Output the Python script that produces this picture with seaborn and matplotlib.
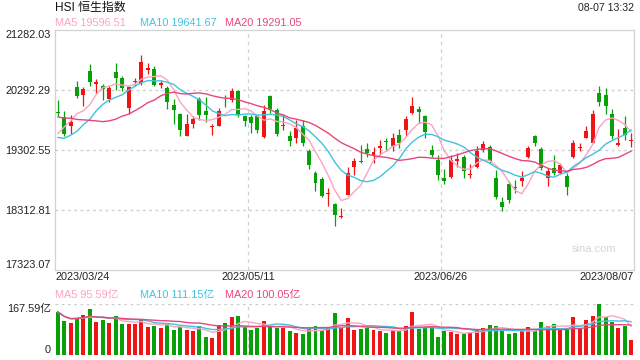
import numpy as np
import pandas as pd
import matplotlib
matplotlib.use("Agg")
import matplotlib.pyplot as plt
import seaborn as sns

# HSI daily candles, 2023/03/24 .. 2023/08/07
opens = [19912, 19837, 19682, 20332, 20205, 20590, 20385, 20354, 20134, 20573,
         20481, 19986, 20410, 20398, 20620, 20629, 20370, 20316, 20040, 19892,
         19517, 19727, 20139, 19930, 19672, 19694, 20060, 20122, 20260, 19859,
         19837, 19847, 19507, 20177, 19958, 19685, 19529, 19491, 19694, 19286,
         18913, 18814, 18575, 18407, 18185, 18555, 19022, 19112, 19309, 19215,
         19335, 19430, 19364, 19545, 19628, 19908, 19969, 19854, 19298, 19132,
         18836, 18857, 19105, 19182, 18875, 19006, 19289, 19347, 18830, 18440,
         18732, 18673, 18786, 19187, 19529, 19314, 18830, 18995, 18913, 18869,
         19177, 19325, 19491, 19418, 20233, 20200, 19887, 19385, 19656, 19450]
highs = [20111, 19930, 19875, 20436, 20332, 20716, 20469, 20382, 20342, 20728,
         20507, 20354, 20481, 20865, 20728, 20672, 20452, 20342, 20139, 19903,
         19892, 19847, 20167, 20167, 19727, 19986, 20205, 20316, 20288, 19875,
         19875, 19875, 20040, 20205, 19986, 19892, 19600, 19793, 19793, 19309,
         18940, 18857, 18666, 18428, 18336, 19022, 19161, 19380, 19418, 19352,
         19462, 19491, 19573, 19644, 19847, 20161, 20012, 19875, 19380, 19215,
         18984, 19215, 19243, 19215, 19062, 19368, 19435, 19380, 18968, 18527,
         18775, 18802, 18940, 19368, 19545, 19352, 18995, 19215, 19078, 18913,
         19462, 19408, 19682, 19946, 20354, 20316, 19969, 19639, 19847, 19573]
lows = [19847, 19517, 19557, 20151, 20012, 20358, 20233, 20122, 20094, 20288,
        20271, 19887, 20342, 20370, 20551, 20342, 20316, 19969, 19727, 19529,
        19517, 19656, 19793, 19764, 19545, 19694, 20002, 20078, 19837, 19694,
        19573, 19573, 19491, 19903, 19517, 19627, 19364, 19408, 19364, 18979,
        18626, 18517, 18374, 18044, 18180, 18555, 18885, 19078, 19177, 19078,
        19215, 19286, 19281, 19326, 19517, 19887, 19738, 19500, 19187, 18802,
        18737, 18840, 19022, 18840, 18840, 18995, 19260, 19078, 18489, 18280,
        18418, 18583, 18708, 19161, 19364, 18968, 18704, 18885, 18902, 18555,
        19161, 19270, 19491, 19408, 20012, 19892, 19474, 19364, 19462, 19352]
closes = [19900, 19562, 19764, 20193, 20299, 20408, 20409, 20299, 20316, 20481,
          20316, 20332, 20438, 20754, 20640, 20370, 20398, 20078, 19958, 19616,
          19727, 19809, 19875, 19875, 19690, 19930, 20045, 20271, 19875, 19768,
          19738, 19616, 19941, 19969, 19562, 19700, 19451, 19656, 19418, 19050,
          18748, 18539, 18590, 18225, 18200, 18913, 19105, 19100, 19243, 19260,
          19368, 19420, 19491, 19418, 19809, 20024, 19916, 19595, 19215, 18890,
          18786, 19132, 19144, 18940, 18893, 19281, 19392, 19105, 18527, 18362,
          18473, 18660, 18840, 19331, 19418, 18995, 18940, 18913, 19039, 18676,
          19408, 19340, 19611, 19887, 20078, 20024, 19517, 19405, 19545, 19466]
# turnover, 亿
volumes = [142, 112, 104, 123, 131, 151, 110, 115, 104, 128,
           102, 102, 102, 115, 93, 95, 90, 104, 82, 93,
           82, 79, 95, 60, 57, 99, 106, 126, 128, 93,
           82, 90, 112, 95, 88, 90, 79, 73, 69, 84,
           95, 82, 93, 139, 93, 121, 82, 85, 90, 82,
           79, 73, 82, 80, 95, 142, 85, 90, 93, 60,
           80, 77, 69, 69, 73, 85, 90, 99, 95, 80,
           69, 71, 80, 93, 80, 110, 96, 102, 85, 82,
           126, 88, 115, 128, 167.59, 124, 110, 90, 95, 49]
# closes before the window, only to start the moving averages
warmup_close = [19944, 19786, 20620, 20429, 20568, 20603, 20534, 20051, 19926, 19320,
                19696, 19248, 19540, 19204, 19519, 19001, 19259, 19591, 20050]

date_labels = ["2023/03/24", "2023/05/11", "2023/06/26", "2023/08/07"]
price_ticks = [17323.07, 18312.81, 19302.55, 20292.29, 21282.03]
vol_max = 167.59
ma_windows = [5, 10, 20]
ma_last = [19596.51, 19641.67, 19291.05]      # as printed in the header
vol_ma_last = [95.59, 111.15, 100.05]
ma_colors = {"MA5": "#f8a5c2", "MA10": "#3ec3e0", "MA20": "#e8467c"}
UP, DOWN = "#f01515", "#08a008"

n = len(closes)
idx = np.arange(n)
df = pd.DataFrame({"i": idx, "open": opens, "high": highs, "low": lows,
                   "close": closes, "vol": volumes})
df["color"] = np.where(df["close"] >= df["open"], UP, DOWN)

all_close = pd.Series(warmup_close + closes)
ma_rows = []
vma_rows = []
for w in ma_windows:
    m = all_close.rolling(w).mean().iloc[-n:].to_numpy()
    vm = df["vol"].rolling(w, min_periods=1).mean().to_numpy()
    ma_rows.append(pd.DataFrame({"i": idx, "val": m, "line": f"MA{w}"}))
    vma_rows.append(pd.DataFrame({"i": idx, "val": vm, "line": f"MA{w}"}))
ma = pd.concat(ma_rows)
vma = pd.concat(vma_rows)

sns.set_theme(style="white")
plt.rcParams["font.family"] = ["Liberation Sans", "Noto Sans CJK SC"]

W, H = 640, 360
fig = plt.figure(figsize=(6.4, 3.6), dpi=100)
ax = fig.add_axes([55 / W, 1 - 269.5 / H, 579 / W, 240 / H])
axv = fig.add_axes([55 / W, 1 - 355 / H, 579 / W, 51 / H])

# candles
ax.vlines(df["i"], df["low"], df["high"], colors=df["color"], linewidth=0.9, zorder=2)
body_lo = df[["open", "close"]].min(axis=1)
body_h = (df["close"] - df["open"]).abs().clip(lower=16)
ax.bar(df["i"], body_h, bottom=body_lo, width=0.62, color=df["color"], linewidth=0, zorder=3)

sns.lineplot(data=ma, x="i", y="val", hue="line", palette=ma_colors,
             linewidth=1.0, legend=False, ax=ax, zorder=4)

ax.set_xlim(-0.42, n - 1 + 0.42)
ax.set_ylim(price_ticks[0], price_ticks[-1])
ax.set_yticks(price_ticks)
labs = ax.set_yticklabels([f"{t:.2f}" for t in price_ticks])
labs[0].set_va("bottom")
labs[-1].set_va("top")
ax.tick_params(axis="y", length=0, pad=3, labelsize=7.8, labelcolor="#222")
ax.set_xticks([])
ax.set_xlabel("")
ax.set_ylabel("")
for t in price_ticks[1:-1]:
    ax.axhline(t, color="#cfcfcf", linewidth=1.0, linestyle=(0, (2, 2.5)), zorder=1)
for s in ax.spines.values():
    s.set_color("#d2d2d2")
    s.set_linewidth(0.9)

x0, x1 = ax.get_xlim()
for k in (1, 2):
    xg = x0 + (x1 - x0) * k / 3
    ax.axvline(xg, color="#d0d0d0", linewidth=0.9, linestyle=(0, (3, 3)), zorder=1)
    axv.axvline(xg, color="#d0d0d0", linewidth=0.9, linestyle=(0, (3, 3)), zorder=0)

for k, lab in enumerate(date_labels):
    ha = "left" if k == 0 else ("right" if k == 3 else "center")
    ax.text(k / 3, -7.5 / 240, lab, transform=ax.transAxes, ha=ha, va="center",
            fontsize=7.8, color="#222")

ax.text(0.97, 0.085, "sina.com", transform=ax.transAxes, ha="right", va="center",
        fontsize=8, color="#d4d4d4")

# volume
axv.bar(df["i"], df["vol"], width=0.62, color=df["color"], linewidth=0, zorder=2)
sns.lineplot(data=vma, x="i", y="val", hue="line", palette=ma_colors,
             linewidth=1.0, legend=False, ax=axv, zorder=3)
axv.set_xlim(x0, x1)
axv.set_ylim(0, vol_max)
axv.set_yticks([0, vol_max])
vl = axv.set_yticklabels(["0", f"{vol_max:.2f}亿"])
vl[0].set_va("bottom")
vl[1].set_va("top")
axv.tick_params(axis="y", length=0, pad=3, labelsize=7.8, labelcolor="#222")
axv.set_xticks([])
axv.set_xlabel("")
axv.set_ylabel("")
for s in axv.spines.values():
    s.set_visible(False)
axv.axhline(vol_max, color="#cfcfcf", linewidth=1.0, linestyle=(0, (2, 2.5)), zorder=1)

# header texts
fig.text(55 / W, 1 - 8 / H, "HSI 恒生指数", ha="left", va="center", fontsize=8.6, color="#111")
fig.text(634 / W, 1 - 8 / H, "08-07 13:32", ha="right", va="center", fontsize=7.6, color="#222")

for name, px, v, vv in zip(ma_colors, (55, 140, 225), ma_last, vol_ma_last):
    fig.text(px / W, 1 - 23 / H, f"{name} {v:.2f}", ha="left", va="center",
             fontsize=7.8, color=ma_colors[name])
    fig.text(px / W, 1 - 295 / H, f"{name} {vv:.2f}亿", ha="left", va="center",
             fontsize=7.8, color=ma_colors[name])

fig.savefig("out.png", dpi=100)
